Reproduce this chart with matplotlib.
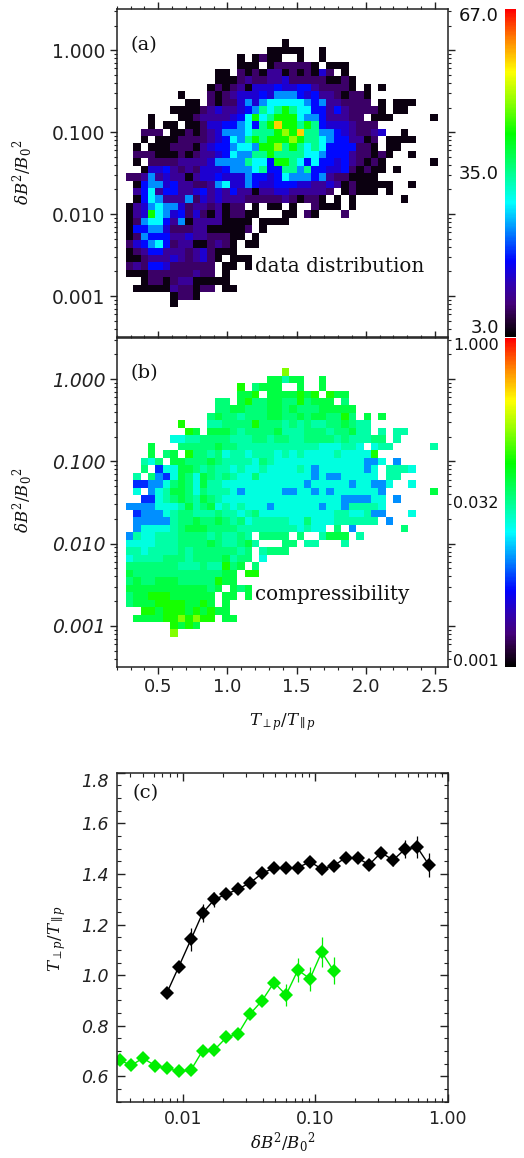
import numpy as np
import matplotlib
matplotlib.use('Agg')
import matplotlib.pyplot as plt
from matplotlib.colors import LinearSegmentedColormap, Normalize, LogNorm
from matplotlib.ticker import MultipleLocator, LogLocator, NullFormatter, FixedLocator

W, H = 524, 1158

# panel (a) counts, one char per bin, see count_levels ('.' = empty bin)
count_rows = [
    "." * 21 + "0",
    "." * 19 + "00000..0",
    "." * 15 + "0.0100..0..0",
    "." * 15 + "000.0111110.000",
    "." * 12 + "00.101022010103" + "1.0",
    "." * 12 + "000" + "1211223111110010",
    "." * 11 + "01012033343344211110" + ".0.0",
    ".......0..." + "1012333435554342210110",
    "........00." + "1011353566666545221111" + ".0.000",
    "......" + "00001232234576787664424211110" + ".00",
    "...0..." + "0012222346867888655422211" + ".000" + ".....0",
    "...0.00." + "001334456478A8878743332111",
    "..111." + "00101235556777898A77554321123" + "..0",
    "..0." + "0001111234" + "6578788898" + "7765442201" + ".0000",
    ".0." + "0001110234" + "4566588978" + "7676444411" + "0" + ".00",
    "." + "1110001012" + "2346557787" + "7776654442" + "11010" + "..0",
    ".0." + "1111222235" + "5557664887" + "6464434210" + "10" + "......0",
    "..0" + "3342121333" + "4555674477" + "5744334101" + "00" + ".0",
    "1125232202" + "3343335443" + "4655545211" + "0000",
    "." + "0455342211" + "2563354334" + "4433223201" + "00000" + "..0",
    "." + "2462442234" + "2324220223" + "322222" + "1.01" + "000" + ".0",
    "." + "0465222513" + "2322211111" + "210110.0.0" + "......0",
    "0235655312" + "212011.0.0" + "0.0..1000.0",
    "0238653413" + "10201100" + "...00.10...1",
    "0156642502" + "2220000" + ".0000",
    "0445531112" + "2000001" + ".0",
    "0154442232" + "211100" + ".0",
    "1345641220" + "01210" + ".00",
    "0124422212" + "31000",
    "0012223212" + "310.000",
    "1214431111" + "11.00" + ".0",
    "0001111112" + "11.0",
    "..011012200000",
    ".00000211011" + ".00",
    "......0110",
    "......0",
]

# panel (b) compressibility, same binning, see compress_levels
compress_rows = [
    "." * 21 + "8",
    "." * 19 + "66466..6",
    "." * 15 + "7.5666..6..6",
    "." * 15 + "667." + "6666767" + ".766",
    "." * 12 + "55." + "6755665575666" + ".5",
    "." * 12 + "5566555665655566666",
    "." * 11 + "56554555665565665575" + ".6.6",
    ".......7..." + "4455557555454544556544",
    "........76." + "6665455556444555455644" + ".4.44",
    "......" + "3344555544" + "4554554455" + "554544455" + ".4",
    "...6..." + "5555565544" + "4444444443" + "33443" + ".344" + ".....4",
    "...6.56." + "7554534434" + "4434343333" + "433337",
    "..435." + "6655565444" + "4354333333" + "333333223" + ".2",
    "..5." + "1336654544" + "3433433334" + "3233333323" + ".4443",
    ".4." + "5213653654" + "5433533333" + "3323223333" + "3" + ".44",
    "." + "1122356536" + "4433333333" + "3332333332" + "33223" + "..3",
    ".3." + "2346653544" + "4323333322" + "3323233333" + "32" + "......6",
    "..1" + "1345654654" + "3333333333" + "3333332222" + "33" + ".2",
    "2222333464" + "5634343332" + "3333332332" + "44443",
    "." + "1222345544" + "4544345333" + "3333333443" + "3422" + "...3",
    "." + "2222245565" + "5654534444" + "4335333444" + "444" + ".2",
    "." + "2333345666" + "5555444444" + "443433" + ".5.2" + "......5",
    "2433444555" + "5454454" + ".5555.5..4666.4",
    "3333444555" + "56544564" + "...55.44...4",
    "4434444545" + "5555545" + ".4555",
    "3444455545" + "5556455" + ".3",
    "5555555444" + "544756" + ".5",
    "6555555555" + "55566" + ".77",
    "5655666555" + "55766",
    "6666666666" + "656.656",
    "5667776666" + "66.66" + ".6",
    "5666777766" + "76.6",
    "..776777676766",
    ".66667787877" + ".66",
    "......7676",
    "......8",
]

count_levels = dict(zip("0123456789A", [4.0, 8.5, 11.5, 15, 18, 24, 29, 35, 43, 49, 57]))
compress_levels = dict(zip("12345678", [0.006, 0.0098, 0.02, 0.028, 0.037, 0.05, 0.08, 0.135]))

x_ticks_hist = [0.5, 1.0, 1.5, 2.0, 2.5]
y_ticks_hist = [0.001, 0.01, 0.1, 1.0]
y_ticklabels_hist = ['0.001', '0.010', '0.100', '1.000']

# panel (c)
bin_x = [0.00334, 0.00408, 0.00499, 0.00615, 0.00757, 0.0093, 0.0115, 0.0141, 0.0173, 0.0213, 0.0261,
         0.0322, 0.0396, 0.0488, 0.0601, 0.0739, 0.0912, 0.1117, 0.1374, 0.1693, 0.2084, 0.2553,
         0.314, 0.387, 0.476, 0.587, 0.723]
black_y = [0.93, 1.033, 1.141, 1.246, 1.299, 1.32, 1.34, 1.365, 1.402, 1.424, 1.424, 1.425, 1.448,
           1.42, 1.432, 1.464, 1.462, 1.437, 1.484, 1.455, 1.498, 1.506, 1.435]
black_err = [0.008, 0.018, 0.046, 0.037, 0.028, 0.018, 0.014, 0.012, 0.01, 0.01, 0.01, 0.012, 0.012,
             0.012, 0.012, 0.012, 0.015, 0.015, 0.02, 0.025, 0.035, 0.042, 0.046]
green_y = [0.663, 0.644, 0.672, 0.643, 0.632, 0.62, 0.625, 0.702, 0.705, 0.754, 0.768, 0.847, 0.899,
           0.971, 0.922, 1.02, 0.986, 1.091, 1.018]
green_err = [0.005, 0.005, 0.005, 0.005, 0.005, 0.005, 0.006, 0.008, 0.008, 0.01, 0.01, 0.015, 0.015,
             0.02, 0.045, 0.047, 0.047, 0.058, 0.054]

# black - purple - blue - cyan - green - yellow - red
cmap = LinearSegmentedColormap.from_list('rb', [
    (0.0, '#000000'), (0.05, '#240034'), (0.1, '#44007a'), (0.16, '#3000b0'), (0.23, '#0000ff'),
    (0.33, '#0090ff'), (0.41, '#00ffff'), (0.5, '#00ff90'), (0.62, '#00ff00'), (0.72, '#90ff00'),
    (0.81, '#ffff00'), (0.9, '#ff9000'), (1.0, '#ff0000')])

INK = '#222222'
plt.rcParams['mathtext.fontset'] = 'dejavuserif'
plt.rcParams['axes.linewidth'] = 1.1
plt.rcParams['axes.edgecolor'] = INK
plt.rcParams['xtick.color'] = INK
plt.rcParams['ytick.color'] = INK
plt.rcParams['text.color'] = '#111111'

fig = plt.figure(figsize=(W / 100, H / 100), dpi=100)


def px_axes(left, top, right, bottom):
    return fig.add_axes([left / W, 1 - bottom / H, (right - left) / W, (bottom - top) / H])


def px_text(x, y, s, **kw):
    kw.setdefault('va', 'center')
    fig.text(x / W, 1 - y / H, s, **kw)


def to_grid(rows, levels):
    grid = np.full((len(rows), 42), np.nan)
    for r, row in enumerate(rows):
        for c, ch in enumerate(row[:42]):
            if ch != '.':
                grid[r, c] = levels[ch]
    return np.ma.masked_invalid(grid)


x_edges = 0.265 + 0.0537 * np.arange(43)
y_edges = 10 ** (0.134 - 0.0908 * np.arange(37))

def hist_panel(top, bottom, grid, norm, italic):
    ax = px_axes(116.7, top, 448, bottom)
    mesh = ax.pcolormesh(x_edges, y_edges, grid, cmap=cmap, norm=norm, edgecolor='none')
    ax.set_xlim(0.2, 2.594)
    ax.set_yscale('log')
    ax.set_ylim(10 ** -3.5, 10 ** 0.5)
    ax.xaxis.set_major_locator(FixedLocator(x_ticks_hist))
    ax.xaxis.set_minor_locator(MultipleLocator(0.1))
    ax.yaxis.set_major_locator(FixedLocator(y_ticks_hist))
    ax.yaxis.set_minor_locator(LogLocator(base=10, subs=range(2, 10), numticks=12))
    ax.yaxis.set_minor_formatter(NullFormatter())
    ax.set_yticklabels(y_ticklabels_hist, fontsize=13.5, style='italic' if italic else 'normal')
    ax.tick_params(which='major', direction='out', top=True, right=True, length=5, width=1, pad=3)
    ax.tick_params(which='minor', direction='out', top=True, right=True, length=2.5, width=0.8)
    return ax, mesh


ax_a, mesh_a = hist_panel(9.3, 337, to_grid(count_rows, count_levels), Normalize(3, 67), False)
ax_b, mesh_b = hist_panel(338, 667, to_grid(compress_rows, compress_levels), LogNorm(0.001, 1.0), True)
ax_a.tick_params(axis='x', labelbottom=False)
ax_b.set_xticklabels(['0.5', '1.0', '1.5', '2.0', '2.5'], fontsize=13)

cax_a = px_axes(505, 9.3, 515.7, 337)
cax_b = px_axes(505, 338, 515.7, 667)
for m, cax in ((mesh_a, cax_a), (mesh_b, cax_b)):
    cb = fig.colorbar(m, cax=cax)
    cb.outline.set_visible(False)
    cb.set_ticks([])
    cb.minorticks_off()

for y, s in [(16, '67.0'), (174, '35.0'), (328, '3.0')]:
    px_text(499, y, s, ha='right', fontsize=13)
for y, s in [(346, '1.000'), (503, '0.032'), (661, '0.001')]:
    px_text(499, y, s, ha='right', fontsize=11.5)

px_text(131, 45, '(a)', family='DejaVu Serif', fontsize=14)
px_text(131, 373, '(b)', family='DejaVu Serif', fontsize=14)
px_text(255, 267, 'data distribution', family='DejaVu Serif', fontsize=14.3)
px_text(255, 595, 'compressibility', family='DejaVu Serif', fontsize=14.3)

dB_label = r'$\delta B^{2}/B_{0}{}^{2}$'
ratio_label = r'$T_{\perp p}/T_{\parallel p}$'
px_text(23, 172, dB_label, rotation=90, ha='center', fontsize=12)
px_text(23, 500, dB_label, rotation=90, ha='center', fontsize=12)
px_text(283, 722, ratio_label, ha='center', fontsize=12)

# panel (c)
ax_c = px_axes(116.7, 772.7, 447.7, 1101.7)
ax_c.set_xscale('log')
ax_c.set_xlim(10 ** -2.5, 1.0)
ax_c.set_ylim(0.5, 1.8)
for xs, ys, es, col in ((bin_x[4:], black_y, black_err, 'black'), (bin_x[:19], green_y, green_err, '#00ee00')):
    ax_c.errorbar(xs, ys, yerr=es, color=col, lw=1, elinewidth=0.9, capsize=2, capthick=0.9,
                  marker='D', ms=6.9, mew=0)
ax_c.xaxis.set_major_locator(FixedLocator([0.01, 0.1, 1.0]))
ax_c.xaxis.set_minor_locator(LogLocator(base=10, subs=range(2, 10), numticks=12))
ax_c.xaxis.set_minor_formatter(NullFormatter())
ax_c.set_xticklabels(['0.01', '0.10', '1.00'], fontsize=12.5)
ax_c.yaxis.set_minor_locator(MultipleLocator(0.05))
ax_c.set_yticks([0.6, 0.8, 1.0, 1.2, 1.4, 1.6, 1.8])
ax_c.set_yticklabels(['0.6', '0.8', '1.0', '1.2', '1.4', '1.6', '1.8'], fontsize=12.5, style='italic')
ax_c.get_yticklabels()[-1].set_verticalalignment('top')
ax_c.tick_params(which='major', direction='in', top=True, right=True, length=5.5, width=1, pad=6)
ax_c.tick_params(which='minor', direction='in', top=True, right=True, length=2.8, width=0.8)
px_text(133, 793, '(c)', family='DejaVu Serif', fontsize=14)
px_text(283, 1143, dB_label, ha='center', fontsize=12)
px_text(57, 938, ratio_label, rotation=90, ha='center', fontsize=12)

fig.savefig('out.png', dpi=100)
